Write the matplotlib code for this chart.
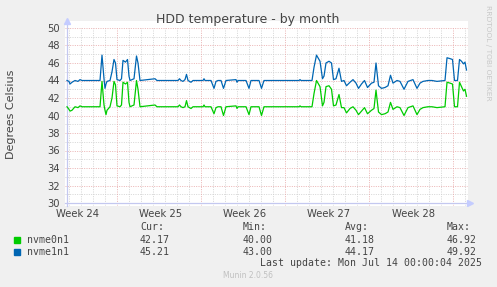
import matplotlib
matplotlib.use("Agg")
import matplotlib.pyplot as plt
from matplotlib.patches import Rectangle

# hours since the left edge of the month window (right edge = 800 h)
hours = [0, 4, 6, 10, 16, 22, 26, 30, 46, 66, 70, 74, 76, 78, 80, 86, 90, 94, 97, 100,
         106, 109, 112, 117, 121, 124, 126, 134, 139, 142, 146, 176, 180, 222, 225, 228,
         232, 236, 239, 242, 248, 252, 272, 274, 276, 288, 294, 298, 302, 308, 313, 318,
         338, 340, 342, 358, 364, 368, 384, 389, 394, 464, 466, 468, 490, 494, 499, 506,
         511, 514, 518, 524, 529, 533, 538, 544, 549, 554, 559, 566, 572, 578, 583, 589,
         595, 601, 609, 614, 618, 623, 629, 636, 642, 647, 652, 660, 666, 674, 682, 692,
         700, 706, 712, 722, 730, 740, 756, 760, 766, 771, 775, 781, 785, 789, 793, 796, 799]

nvme1n1 = [44.0, 43.9, 43.6, 43.8, 44.0, 43.9, 44.1, 44.0, 44.0, 44.0, 46.9, 44.2, 43.1, 43.6,
           43.9, 44.0, 45.0, 46.4, 46.0, 44.1, 44.0, 44.2, 46.3, 46.1, 46.4, 44.5, 44.0, 44.2,
           46.8, 46.0, 44.0, 44.2, 44.0, 44.0, 44.2, 44.0, 43.9, 44.1, 44.7, 44.0, 43.8, 44.0,
           44.0, 44.2, 44.0, 44.0, 43.1, 43.9, 44.0, 44.0, 43.1, 44.0, 44.1, 43.8, 44.0, 44.0,
           43.1, 44.0, 44.0, 43.1, 44.0, 44.0, 44.1, 44.0, 44.0, 45.5, 46.9, 46.2, 44.2, 44.5,
           46.0, 46.2, 46.0, 44.1, 44.2, 45.4, 43.9, 44.0, 43.4, 43.8, 44.1, 43.7, 43.1, 43.6,
           44.0, 43.2, 43.7, 43.8, 46.0, 43.4, 43.1, 43.2, 43.4, 44.6, 43.7, 44.0, 43.9, 43.0,
           43.9, 44.1, 43.1, 43.7, 43.9, 44.0, 44.0, 43.9, 44.0, 46.6, 46.5, 46.4, 44.0, 44.0,
           46.4, 46.2, 45.9, 46.1, 45.2]

nvme0n1 = [41.0, 40.7, 40.5, 40.6, 41.0, 40.9, 41.1, 41.0, 41.0, 41.0, 43.9, 41.2, 40.6, 40.1,
           40.6, 41.0, 42.0, 43.9, 43.5, 41.1, 41.0, 41.2, 43.8, 43.6, 43.8, 41.5, 41.0, 41.2,
           44.0, 43.0, 41.0, 41.2, 41.0, 41.0, 41.2, 41.0, 40.9, 41.0, 41.7, 41.0, 40.8, 41.0,
           41.0, 41.2, 41.0, 41.0, 40.2, 40.9, 41.0, 41.0, 40.0, 41.0, 41.1, 40.8, 41.0, 41.0,
           40.1, 41.0, 41.0, 40.0, 41.0, 41.0, 41.1, 41.0, 41.0, 42.5, 44.0, 43.3, 41.1, 41.5,
           43.3, 43.4, 43.0, 41.1, 41.2, 42.4, 40.9, 40.9, 40.3, 40.8, 41.0, 40.6, 40.1, 40.5,
           40.9, 40.2, 40.6, 40.8, 42.9, 40.4, 40.1, 40.2, 40.4, 41.5, 40.7, 41.0, 40.9, 40.0,
           40.9, 41.1, 40.1, 40.7, 40.9, 41.0, 41.0, 40.9, 41.0, 43.8, 43.7, 43.6, 41.0, 41.0,
           43.8, 43.3, 42.8, 43.0, 42.2]

week_labels = ["Week 24", "Week 25", "Week 26", "Week 27", "Week 28"]
week_label_pos = [20, 188, 356, 524, 692]
week_major_pos = [100, 268, 436, 604, 772]
day_minor_pos = [4 + 24 * i for i in range(34)]
y_ticks = list(range(30, 51, 2))

series_names = ["nvme0n1", "nvme1n1"]
series_colors = ["#00CC00", "#0066B3"]
cur_vals = ["42.17", "45.21"]
min_vals = ["40.00", "43.00"]
avg_vals = ["41.18", "44.17"]
max_vals = ["46.92", "49.92"]
last_update = "Last update: Mon Jul 14 00:00:04 2025"

W, H = 497, 287
fig = plt.figure(figsize=(W / 100, H / 100), dpi=100, facecolor="#F0F0F0")
ax = fig.add_axes([65 / W, (H - 206) / H, 403 / W, 185 / H])
ax.set_facecolor("white")
ax.set_xlim(-4, 802)
ax.set_ylim(30 - 3 / 8.75, 50 + 7 / 8.75)
for s in ax.spines.values():
    s.set_visible(False)

y0, y1 = ax.get_ylim()
x0, x1 = ax.get_xlim()
grid_kw = dict(linewidth=0.6, linestyles=(0, (1.2, 1.6)))
minor_y = [v for v in range(31, 50, 2)]
ax.hlines(minor_y, x0, 800, colors="#cfcfcf", zorder=1, **grid_kw)
ax.vlines([d for d in day_minor_pos if d not in week_major_pos and d < 800], y0, 50,
          colors="#cfcfcf", zorder=1, **grid_kw)
ax.hlines(y_ticks, x0, 800, colors="#e8a8a8", zorder=1, **grid_kw)
ax.vlines(week_major_pos, y0, 50, colors="#e8a8a8", zorder=1, **grid_kw)

# axis lines with arrows
axis_c = "#c4c8f0"
ax.plot([0, 0], [y0, 50.6], color=axis_c, lw=0.9, zorder=2, clip_on=False)
ax.plot([x0, 803], [30, 30], color=axis_c, lw=0.9, zorder=2, clip_on=False)
ax.plot([0], [50.75], marker="^", ms=4.5, color="#c4ccff", zorder=2, clip_on=False)
ax.plot([805], [30], marker=">", ms=4.5, color="#c4ccff", zorder=2, clip_on=False)

ax.plot(hours, nvme0n1, color=series_colors[0], lw=0.9, zorder=3)
ax.plot(hours, nvme1n1, color=series_colors[1], lw=0.9, zorder=3)

txt_c = "#444444"
ax.set_yticks(y_ticks)
ax.set_yticklabels([str(v) for v in y_ticks])
ax.set_xticks(week_label_pos)
ax.set_xticklabels(week_labels)
ax.tick_params(axis="y", length=0, pad=3.6, labelsize=7.2, labelcolor=txt_c)
ax.tick_params(axis="x", length=0, pad=2.0, labelsize=7.2, labelcolor=txt_c)

fig.text(248 / W, 1 - 19.5 / H, "HDD temperature - by month", ha="center", va="center",
         fontsize=9, color=txt_c)
fig.text(11 / W, 1 - 114 / H, "Degrees Celsius", ha="center", va="center",
         rotation=90, fontsize=8, color=txt_c)
fig.text(488 / W, 1 - 53 / H, "RRDTOOL / TOBI OETIKER", ha="center", va="center",
         rotation=270, fontsize=5.4, color="#c8c8c8")

mono = dict(family="DejaVu Sans Mono", fontsize=7.1, color=txt_c, va="center")
col_x = [140, 243, 345, 447]
for cx, head in zip(col_x, ["Cur:", "Min:", "Avg:", "Max:"]):
    fig.text(cx / W, 1 - 227.5 / H, head, **mono)
for i, name in enumerate(series_names):
    ry = 240 + 11.7 * i
    fig.add_artist(Rectangle((14 / W, 1 - (ry + 3) / H), 6 / W, 6 / H,
                             transform=fig.transFigure, color=series_colors[i]))
    fig.text(26.7 / W, 1 - ry / H, name, **mono)
    for cx, vals in zip(col_x, [cur_vals, min_vals, avg_vals, max_vals]):
        fig.text(cx / W, 1 - ry / H, vals[i], **mono)
fig.text(482.5 / W, 1 - 263.3 / H, last_update, ha="right",
         **{k: v for k, v in mono.items()})
fig.text(248 / W, 1 - 276 / H, "Munin 2.0.56", ha="center", va="center",
         fontsize=5.5, color="#c0c0c0")

fig.savefig("out.png", dpi=100, facecolor=fig.get_facecolor())
